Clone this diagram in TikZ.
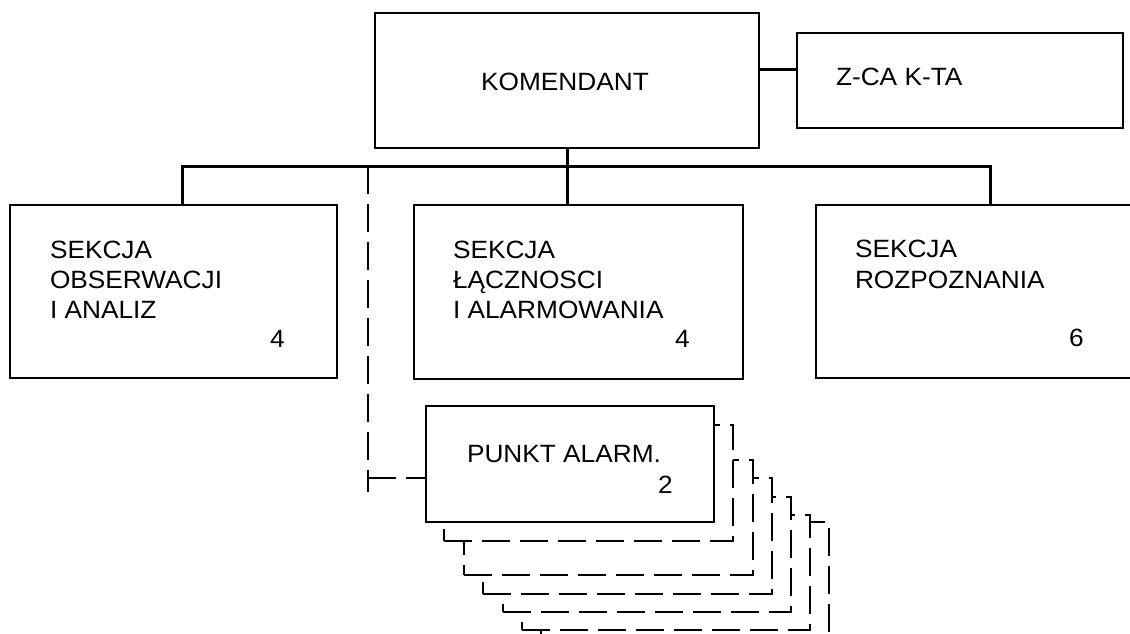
\documentclass[tikz,border=0pt]{standalone}
\usepackage{fontspec}
\setmainfont{Liberation Sans}[FakeStretch=1.05]
\begin{document}
\begin{tikzpicture}[x=1pt,y=-1pt,
  box/.style={draw,line width=2pt,inner sep=0pt,outer sep=0pt,fill=white},
  lbl/.style={anchor=base west,inner sep=0pt,outer sep=0pt,font=\fontsize{25}{30}\selectfont},
  conn/.style={line width=3pt,line join=miter},
  dconn/.style={line width=2.2pt,dash pattern=on 28pt off 10pt},
  shadowbox/.style={line width=2.2pt,dash pattern=on 28pt off 10pt,fill=white}]
\useasboundingbox (0,0) rectangle (1130,634);
\clip (0,0) rectangle (1130,634);

% top boxes
\node[box,minimum width=384pt,minimum height=135pt] (kom) at (567,80.5) {};
\node[lbl,anchor=base] (komt) at (565,91) {KOMENDANT};
\node[box,minimum width=326pt,minimum height=95pt] (zca) at (960,80.5) {};
\node[lbl] (zcat) at (836,85) {Z-CA K-TA};

% section boxes
\node[box,minimum width=327pt,minimum height=173pt] (s1) at (173.5,291.5) {};
\node[lbl] (s1a) at (50,258) {SEKCJA};
\node[lbl] (s1b) at (50,288) {OBSERWACJI};
\node[lbl] (s1c) at (50,318) {I ANALIZ};
\node[lbl] (s1n) at (270,347) {4};

\node[box,minimum width=329.5pt,minimum height=174pt] (s2) at (578.25,292) {};
\node[lbl] (s2a) at (453,258) {SEKCJA};
\node[lbl] (s2b) at (453,288) {ŁĄCZNOSCI};
\node[lbl] (s2c) at (453,318) {I ALARMOWANIA};
\node[lbl] (s2n) at (675,347) {4};

\node[box,minimum width=329pt,minimum height=173pt] (s3) at (980.5,291.5) {};
\node[lbl] (s3a) at (855,257) {SEKCJA};
\node[lbl] (s3b) at (855,288) {ROZPOZNANIA};
\node[lbl] (s3n) at (1069,346) {6};

% connectors
\coordinate (zj) at (0,70);
\draw[conn] (kom.east |- zj) -- (zca.west |- zj);
\draw[conn] (kom.south) -- (kom.south |- s2.north);
\coordinate (bl) at (182,166);
\coordinate (br) at (990,166);
\draw[conn] (bl |- s1.north) -- (bl) -- (br) -- (br |- s3.north);

% stacked dashed boxes (back to front)
\filldraw[shadowbox] (541,648) -- (829,648) -- (829,522) -- (541,522) -- cycle;
\filldraw[shadowbox] (522,630) -- (810,630) -- (810,515) -- (522,515) -- cycle;
\filldraw[shadowbox] (503,612) -- (791,612) -- (791,497) -- (503,497) -- cycle;
\filldraw[shadowbox] (483,594) -- (772,594) -- (772,478) -- (483,478) -- cycle;
\filldraw[shadowbox] (464,575) -- (753,575) -- (753,460) -- (464,460) -- cycle;
\filldraw[shadowbox] (444,541) -- (733,541) -- (733,425) -- (444,425) -- cycle;

\node[box,minimum width=288pt,minimum height=116pt] (pa) at (570,464) {};
\node[lbl] (pat) at (467,462) {PUNKT ALARM.};
\node[lbl] (pan) at (658,493) {2};

% dashed connector
\coordinate (dtop) at (368,166);
\coordinate (dbot) at (368,492);
\coordinate (dj) at (368,478);
\draw[dconn] (dtop) -- (dbot);
\draw[dconn] (dj) -- (dj -| pa.west);
\end{tikzpicture}
\end{document}
